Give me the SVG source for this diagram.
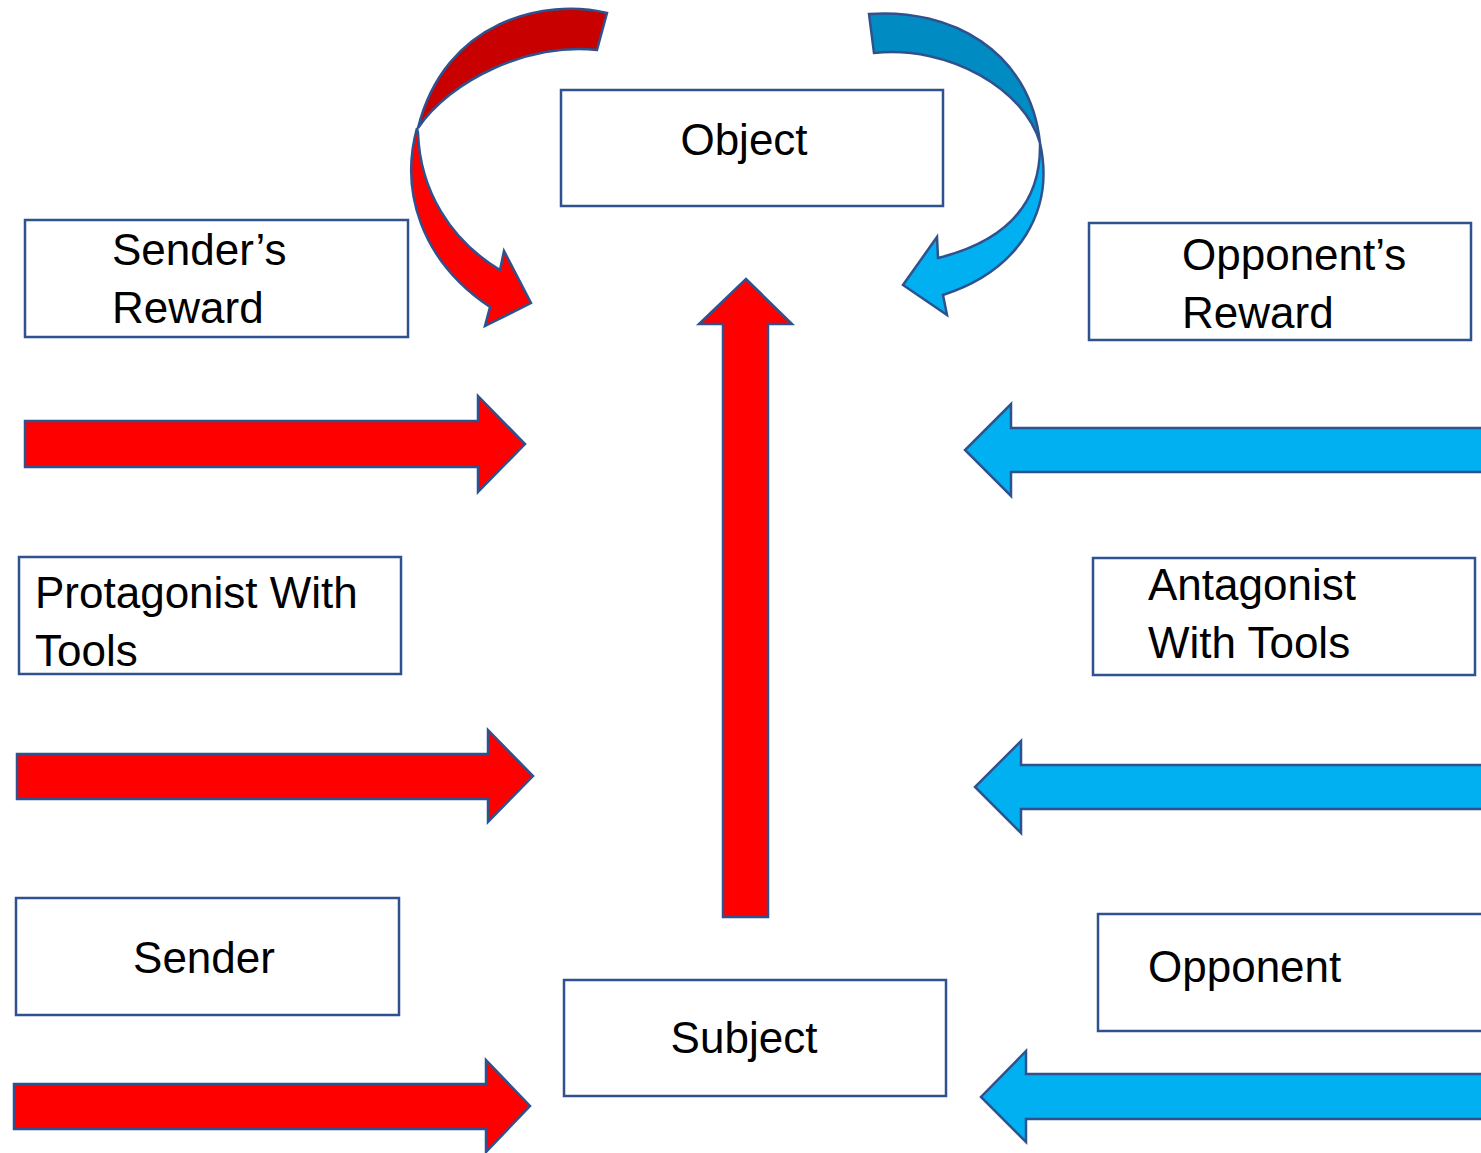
<svg xmlns="http://www.w3.org/2000/svg" width="1481" height="1153" viewBox="0 0 1481 1153">
<style>
.box{fill:#fff;stroke:#2F528F;stroke-width:2.5}
.lbl{font-family:"Liberation Sans",Arial,sans-serif;font-size:44px;fill:#000}
.red{fill:#FF0000;stroke:#2F528F;stroke-width:2.5;stroke-linejoin:miter}
.dred{fill:#C80000;stroke:#2F528F;stroke-width:2.5}
.blue{fill:#00B0F0;stroke:#2F528F;stroke-width:2.5;stroke-linejoin:miter}
.dblue{fill:#008CC2;stroke:#2F528F;stroke-width:2.5}
</style>
<rect width="1481" height="1153" fill="#fff"/>
<g id="connectors">
  <g id="curve-red">
    <path class="dred" d="M607,13 C545,-2 445,20 418,128 C450,80 530,42 597,50 Z"/>
    <path class="red" d="M417,128 C400,190 420,260 490,307 L485,326 L531,303 L504,251 L500,270 C450,240 420,190 418,133 Z"/>
  </g>
  <g id="curve-blue">
    <path class="dblue" d="M869,14 C950,8 1030,50 1040,143 C1025,90 950,45 874,53 Z"/>
    <path class="blue" d="M1040,143 C1055,210 1020,270 943,295 L947,315 L903,285 L937,237 L938,258 C1010,240 1040,200 1040,147 Z"/>
  </g>
  <path id="arrow-up" class="red" d="M723,917 L723,324 L699,324 L746,279 L792,324 L768,324 L768,917 Z"/>
  <path id="arrow-r1" class="red" d="M25,421 L478,421 L478,396 L525,444 L478,492 L478,467 L25,467 Z"/>
  <path id="arrow-r2" class="red" d="M17,754 L488,754 L488,730 L533,776 L488,822 L488,799 L17,799 Z"/>
  <path id="arrow-r3" class="red" d="M14,1084 L486,1084 L486,1060 L530,1106 L486,1152 L486,1129 L14,1129 Z"/>
  <path id="arrow-l1" class="blue" d="M1484,428 L1011,428 L1011,404 L965,450 L1011,496 L1011,472 L1484,472 Z"/>
  <path id="arrow-l2" class="blue" d="M1484,765 L1021,765 L1021,741 L975,787 L1021,833 L1021,809 L1484,809 Z"/>
  <path id="arrow-l3" class="blue" d="M1484,1074 L1026,1074 L1026,1051 L981,1097 L1026,1142 L1026,1119 L1484,1119 Z"/>
</g>
<g id="object"><rect class="box" x="561" y="90" width="382" height="116"/><text class="lbl" x="744" y="155" text-anchor="middle">Object</text></g>
<g id="senders-reward"><rect class="box" x="25" y="220" width="383" height="117"/><text class="lbl" x="112" y="265">Sender’s</text><text class="lbl" x="112" y="323">Reward</text></g>
<g id="opponents-reward"><rect class="box" x="1089" y="223" width="382" height="117"/><text class="lbl" x="1182" y="270">Opponent’s</text><text class="lbl" x="1182" y="328">Reward</text></g>
<g id="protagonist"><rect class="box" x="19" y="557" width="382" height="117"/><text class="lbl" x="35" y="608">Protagonist With</text><text class="lbl" x="35" y="666">Tools</text></g>
<g id="antagonist"><rect class="box" x="1093" y="558" width="382" height="117"/><text class="lbl" x="1148" y="600">Antagonist</text><text class="lbl" x="1148" y="658">With Tools</text></g>
<g id="sender"><rect class="box" x="16" y="898" width="383" height="117"/><text class="lbl" x="204" y="973" text-anchor="middle">Sender</text></g>
<g id="subject"><rect class="box" x="564" y="980" width="382" height="116"/><text class="lbl" x="744" y="1053" text-anchor="middle">Subject</text></g>
<g id="opponent"><rect class="box" x="1098" y="914" width="390" height="117"/><text class="lbl" x="1148" y="982">Opponent</text></g>
</svg>
